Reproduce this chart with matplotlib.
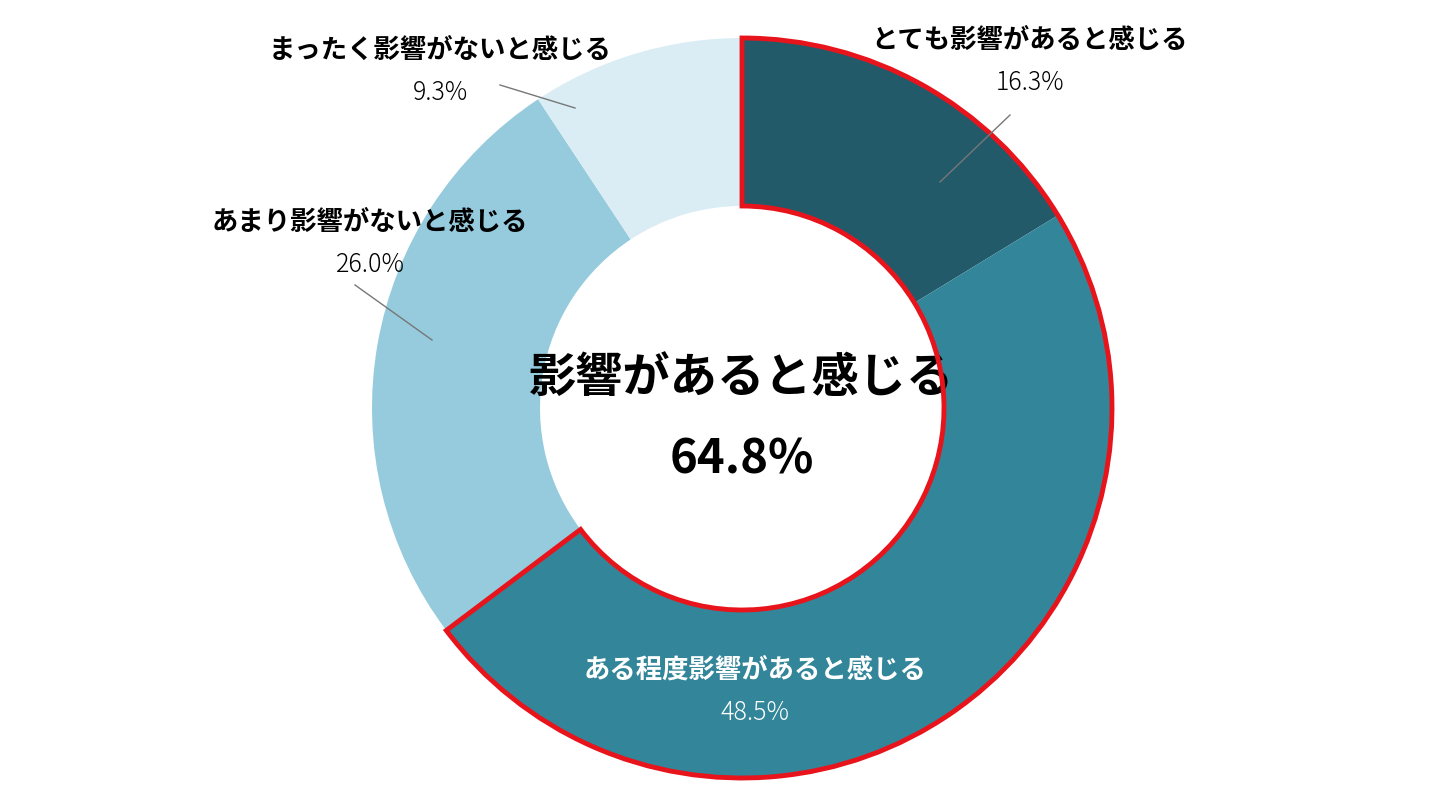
import matplotlib.pyplot as plt
from matplotlib.patches import Wedge

plt.rcParams['font.family'] = 'Noto Sans CJK JP'

labels = ['とても影響があると感じる', 'ある程度影響があると感じる', 'あまり影響がないと感じる', 'まったく影響がないと感じる']
values = [16.3, 48.5, 26.0, 9.3]
colors = ['#235a6a', '#338699', '#95cbdd', '#daedf4']
center_title = '影響があると感じる'
center_value = 64.8

fig = plt.figure(figsize=(14.4, 8.1), dpi=100)
ax = fig.add_axes([0, 0, 1, 1])

cx, cy, R, w = 742, 402, 370, 168
ax.pie(values, colors=colors, startangle=90, counterclock=False,
       center=(cx, cy), radius=R, wedgeprops=dict(width=w, linewidth=0))

# red outline around the "affected" group
ang = 360 * (values[0] + values[1]) / sum(values)
ax.add_patch(Wedge((cx, cy), R, 90 - ang, 90, width=w, facecolor='none',
                   edgecolor='#e8141c', linewidth=3.5, zorder=5))

# label texts
txt = [(1030, 770, 1030, 727, 'black'), (755, 140, 755, 97, 'white'),
       (370, 588, 370, 545, 'black'), (440, 760, 440, 717, 'black')]
for (lx, ly, px, py, c), lab, v in zip(txt, labels, values):
    ax.text(lx, ly, lab, ha='center', va='center', fontsize=19, fontweight='bold', color=c, zorder=6)
    ax.text(px, py, f'{v:.1f}%', ha='center', va='center', fontsize=18, fontweight='light', color=c, zorder=6)

# leader lines
for x1, y1, x2, y2 in [(940, 628, 1010, 695), (432, 470, 355, 525), (575, 702, 500, 725)]:
    ax.plot([x1, x2], [y1, y2], color='#777777', linewidth=1, zorder=6)

ax.text(742, 432, center_title, ha='center', va='center', fontsize=34, fontweight='bold')
ax.text(742, 350, f'{center_value:.1f}%', ha='center', va='center', fontsize=34, fontweight='bold')

ax.set_aspect('auto')
ax.set_xlim(0, 1440)
ax.set_ylim(0, 810)
ax.axis('off')

fig.savefig('out.png', dpi=100)
